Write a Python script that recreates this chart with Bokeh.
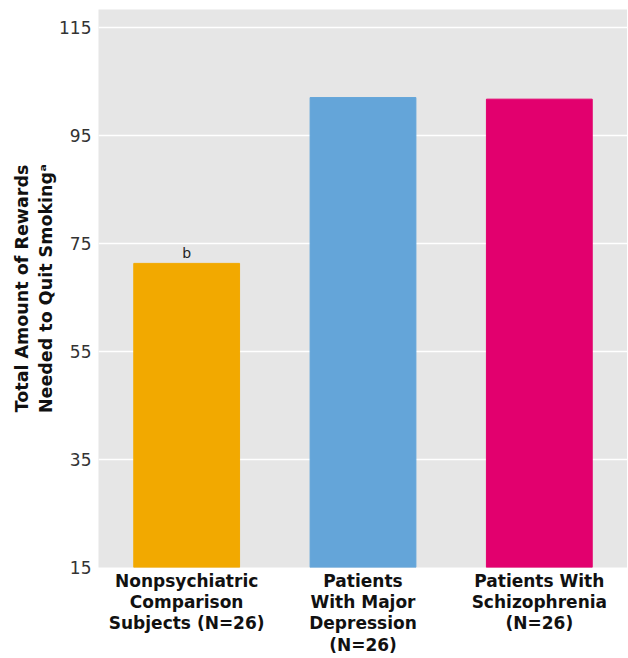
from bokeh.plotting import figure
from bokeh.models import ColumnDataSource, FixedTicker, Range1d
from bokeh.embed import file_html
from bokeh.resources import INLINE
from bokeh.core.properties import value

groups = ["Nonpsychiatric\nComparison\nSubjects (N=26)",
          "Patients\nWith Major\nDepression\n(N=26)",
          "Patients With\nSchizophrenia\n(N=26)"]
rewards = [71.3, 102.0, 101.7]
bar_colors = ["#f2a900", "#64a5d9", "#e2006e"]
y_ticks = [15, 35, 55, 75, 95, 115]
annotations = ["b", "", ""]

FONT = "DejaVu Sans"

src = ColumnDataSource(dict(g=groups, v=rewards, c=bar_colors, a=annotations))

p = figure(x_range=groups, y_range=Range1d(15, 118.3),
           frame_width=529, frame_height=558,
           output_backend="svg", toolbar_location=None,
           min_border_left=98, min_border_right=0, min_border_top=9, min_border_bottom=0)
p.background_fill_color = "#e6e6e6"
p.border_fill_color = "white"
p.outline_line_color = None

p.vbar(x="g", top="v", bottom=15, width=0.6, color="c", source=src)
p.text(x="g", y="v", text="a", source=src, text_align="center", text_baseline="bottom",
       y_offset=-2, text_font=value(FONT), text_font_size="14px", text_color="#222222")

p.x_range.range_padding = 0
p.xgrid.grid_line_color = None
p.ygrid.grid_line_color = "white"
p.ygrid.grid_line_width = 1.3
p.yaxis.ticker = FixedTicker(ticks=y_ticks)

for ax in (p.xaxis[0], p.yaxis[0]):
    ax.axis_line_color = None
    ax.major_tick_line_color = None
    ax.minor_tick_line_color = None
    ax.major_tick_out = 0
    ax.major_tick_in = 0
    ax.major_label_text_font = FONT

p.yaxis.major_label_text_font_size = "17px"
p.yaxis.major_label_text_color = "#333333"
p.yaxis.major_label_standoff = 7
p.yaxis.axis_label = "Total Amount of Rewards\nNeeded to Quit Smoking\u1d43"
p.yaxis.axis_label_text_font = FONT
p.yaxis.axis_label_text_font_style = "bold"
p.yaxis.axis_label_text_font_size = "17.5px"
p.yaxis.axis_label_text_color = "#111111"
p.yaxis.axis_label_standoff = 0

p.xaxis.major_label_text_font_size = "17px"
p.xaxis.major_label_text_font_style = "bold"
p.xaxis.major_label_text_color = "#111111"
p.xaxis.major_label_standoff = 3
p.xaxis.major_label_text_line_height = 1.07
p.xaxis.major_label_orientation = "horizontal"

open("out.html", "w").write(file_html(p, INLINE))
